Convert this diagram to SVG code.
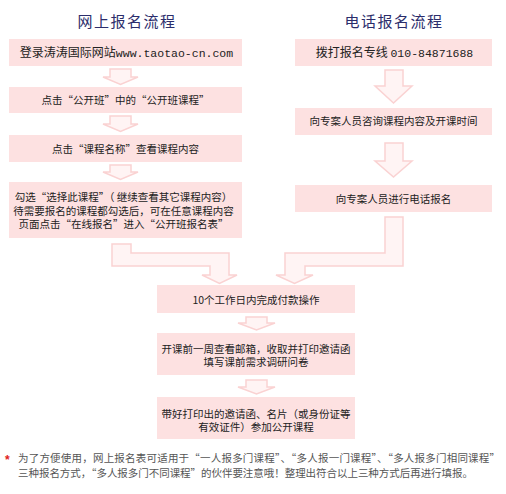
<svg xmlns="http://www.w3.org/2000/svg" width="506" height="494" viewBox="0 0 506 494">
<style>
.bg{fill:#ffffff}
.box{fill:#fde1e1}
.t{font-family:"Noto Sans CJK SC","Noto Sans",sans-serif;font-size:10.5px;fill:#222;text-anchor:middle}
.tb{font-family:"Noto Sans CJK SC","Noto Sans",sans-serif;font-size:12px;fill:#222;text-anchor:middle}
.mono{font-family:"Liberation Mono",monospace;font-size:11.5px}
.title{font-family:"Noto Sans CJK SC","Noto Sans",sans-serif;font-size:15px;fill:#2b2d6b;text-anchor:middle;letter-spacing:1.5px}
.arrow{fill:#fff4f4;stroke:#fad2d2;stroke-width:1.5;stroke-linejoin:miter}
.note{font-family:"Noto Sans CJK SC","Noto Sans",sans-serif;font-size:10.5px;fill:#555}
.star{font-family:"Liberation Sans",sans-serif;font-size:12px;fill:#e02020;font-weight:bold}
</style>
<rect class="bg" x="0" y="0" width="506" height="494"/>

<g id="title-online"><text class="title" x="127" y="27">网上报名流程</text></g>
<g id="title-phone"><text class="title" x="394" y="27">电话报名流程</text></g>

<g id="connectors">
  <path class="arrow" d="M110,69 H131 V77 H138 L120.5,84.5 L103,77 H110 Z"/>
  <path class="arrow" d="M110,116 H131 V124 H138 L120.5,131.5 L103,124 H110 Z"/>
  <path class="arrow" d="M110,165 H131 V172 H138 L120.5,179.5 L103,172 H110 Z"/>
  <path class="arrow" d="M385,70 H403 V86 H412 L393.5,103 L375,86 H385 Z"/>
  <path class="arrow" d="M385,143 H403 V161 H412 L393.5,177 L375,161 H385 Z"/>
  <path class="arrow" d="M112,244 H131 V253 H229 V275 H237 L219.5,283.5 L202,275 H210 V266 H112 Z"/>
  <path class="arrow" d="M385,217 H403 V266 H305 V275 H313 L294.5,283.5 L276,275 H285 V253 H385 Z"/>
  <path class="arrow" d="M246,317 H267 V323 H275 L256.5,330 L238,323 H246 Z"/>
  <path class="arrow" d="M246,380 H267 V387 H275 L256.5,394 L238,387 H246 Z"/>
</g>

<g id="n-online-1">
  <rect class="box" x="9" y="39" width="233" height="27"/>
  <text class="tb" x="126.5" y="57">登录涛涛国际网站<tspan class="mono">www.taotao-cn.com</tspan></text>
</g>
<g id="n-online-2">
  <rect class="box" x="9" y="87" width="233" height="26"/>
  <text class="t" x="125.5" y="104">点击“公开班”中的“公开班课程”</text>
</g>
<g id="n-online-3">
  <rect class="box" x="9" y="135" width="233" height="27"/>
  <text class="t" x="125.5" y="152.5">点击“课程名称”查看课程内容</text>
</g>
<g id="n-online-4">
  <rect class="box" x="9" y="182" width="233" height="56"/>
  <text class="t" x="123.5" y="201">勾选“选择此课程”（ 继续查看其它课程内容）</text>
  <text class="t" x="123.5" y="214.5">待需要报名的课程都勾选后，可在任意课程内容</text>
  <text class="t" x="123.5" y="228">页面点击“在线报名”进入“公开班报名表”</text>
</g>

<g id="n-phone-1">
  <rect class="box" x="295" y="39" width="197" height="27"/>
  <text class="tb" x="394.5" y="57">拨打报名专线 <tspan class="mono">010-84871688</tspan></text>
</g>
<g id="n-phone-2">
  <rect class="box" x="295" y="108" width="197" height="27"/>
  <text class="t" x="393.5" y="125">向专案人员咨询课程内容及开课时间</text>
</g>
<g id="n-phone-3">
  <rect class="box" x="295" y="185" width="197" height="27"/>
  <text class="t" x="393.5" y="203">向专案人员进行电话报名</text>
</g>

<g id="n-pay">
  <rect class="box" x="157" y="285" width="198" height="28"/>
  <text class="t" x="256" y="303.5">10个工作日内完成付款操作</text>
</g>
<g id="n-mail">
  <rect class="box" x="157" y="333" width="198" height="42"/>
  <text class="t" x="256" y="352.5">开课前一周查看邮箱，收取并打印邀请函</text>
  <text class="t" x="256" y="366">填写课前需求调研问卷</text>
</g>
<g id="n-attend">
  <rect class="box" x="157" y="397" width="198" height="42"/>
  <text class="t" x="256" y="417.5">带好打印出的邀请函、名片（或身份证等</text>
  <text class="t" x="256" y="431">有效证件）参加公开课程</text>
</g>

<g id="note">
  <text class="star" x="5" y="464">*</text>
  <text class="note" x="18" y="462" textLength="482" lengthAdjust="spacing">为了方便使用，网上报名表可适用于“一人报多门课程”、“多人报一门课程”、“多人报多门相同课程”</text>
  <text class="note" x="18" y="476.5" textLength="455" lengthAdjust="spacing">三种报名方式，“多人报多门不同课程”的伙伴要注意哦！整理出符合以上三种方式后再进行填报。</text>
</g>
</svg>
